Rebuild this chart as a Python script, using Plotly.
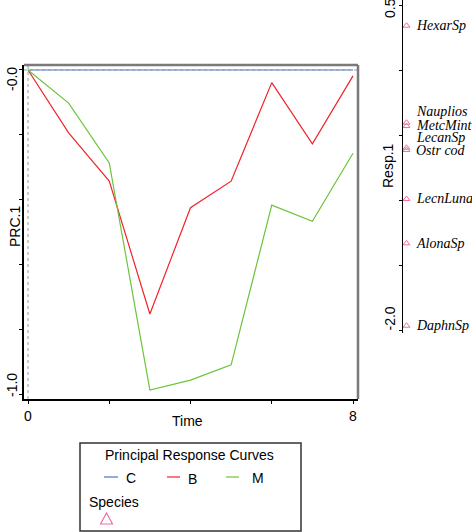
import plotly.graph_objects as go

# ---------------- data ----------------
time_points = [0, 1, 2, 3, 4, 5, 6, 7, 8]
prc_C = [0, 0, 0, 0, 0, 0, 0, 0, 0]
prc_B = [0, -0.194, -0.343, -0.753, -0.425, -0.343, -0.039, -0.228, -0.018]
prc_M = [0, -0.102, -0.287, -0.988, -0.957, -0.910, -0.417, -0.467, -0.257]

species_names = ["HexarSp", "Nauplios", "MetcMint", "LecanSp", "Ostr cod",
                 "LecnLuna", "AlonaSp", "DaphnSp"]
species_scores = [0.341, -0.405, -0.431, -0.598, -0.615, -0.992, -1.333, -1.967]
# label nudges (pixels, up) used to avoid overlapping species labels
species_label_nudge = [0, 11, 1, 10, -1, 0, 0, 0]

x_tickvals = [0, 2, 4, 6, 8]
x_ticktext = ["0", "", "", "", "8"]
y_tickvals = [0, -0.2, -0.4, -0.6, -0.8, -1.0]
sp_tickvals = [0.5, 0, -0.5, -1.0, -1.5, -2.0]

series_names = ["C", "B", "M"]
series_colors = ["#3C78D0", "#F2222B", "#6CC43A"]
species_color = "#F06EA0"

# ---------------- layout helpers ----------------
W, H = 472, 532
def px(x):
    return x / W
def py(y):
    return 1 - y / H

SANS = "Liberation Sans, Arial, sans-serif"
SERIF = "Liberation Serif, Times New Roman, serif"

fig = go.Figure()

for name, vals, col in zip(series_names, [prc_C, prc_B, prc_M], series_colors):
    fig.add_trace(go.Scatter(x=time_points, y=vals, mode="lines", name=name,
                             line=dict(color=col, width=1.2),
                             xaxis="x", yaxis="y", showlegend=False))

fig.add_trace(go.Scatter(x=[0] * len(species_scores), y=species_scores,
                         mode="markers", name="Species",
                         marker=dict(symbol="triangle-up-open", size=6,
                                     color=species_color, line=dict(width=1)),
                         xaxis="x2", yaxis="y2", showlegend=False))

tick_font = dict(family=SANS, size=14, color="black")

def ann(**kw):
    base = dict(showarrow=False, xanchor="center", yanchor="middle",
                font=tick_font)
    base.update(kw)
    return base

# species labels
annotations = []
for nm, sc, nudge in zip(species_names, species_scores, species_label_nudge):
    annotations.append(ann(x=0, y=sc, xref="x2", yref="y2", text=nm,
                           xanchor="left", xshift=7, yshift=nudge,
                           font=dict(family=SERIF, size=14, color="black",
                                     style="italic")))

# edge tick labels (drawn inside the axis range as in the reference)
annotations += [
    ann(x=px(12), y=0, xref="paper", yref="y", text="-0.0", textangle=-90,
        yshift=-9),
    ann(x=px(12), y=-1.0, xref="paper", yref="y", text="-1.0", textangle=-90,
        yshift=9),
    ann(x=px(390), y=0.5, xref="paper", yref="y2", text="0.5", textangle=-90,
        yshift=-3),
    ann(x=px(390), y=-2.0, xref="paper", yref="y2", text="-2.0", textangle=-90,
        yshift=11.5),
]

# axis titles
annotations += [
    ann(x=px(15), y=py(227), xref="paper", yref="paper", text="PRC.1",
        textangle=-90),
    ann(x=px(388), y=py(166), xref="paper", yref="paper", text="Resp.1",
        textangle=-90),
    ann(x=px(187), y=py(421), xref="paper", yref="paper", text="Time"),
]

# legend texts
annotations += [
    ann(x=px(189), y=py(455), xref="paper", yref="paper",
        text="Principal Response Curves"),
    ann(x=px(131), y=py(478), xref="paper", yref="paper", text="C"),
    ann(x=px(192), y=py(479), xref="paper", yref="paper", text="B"),
    ann(x=px(258), y=py(478), xref="paper", yref="paper", text="M"),
    ann(x=px(87), y=py(502), xref="paper", yref="paper", text="Species",
        xanchor="left"),
]

shapes = [
    # dotted reference lines
    dict(type="line", xref="x domain", yref="y", x0=0, x1=1, y0=0, y1=0,
         line=dict(color="#9A9A9A", width=1, dash="dot"), layer="above"),
    dict(type="line", xref="x", yref="y domain", x0=0, x1=0, y0=0, y1=1,
         line=dict(color="#9A9A9A", width=1, dash="dot"), layer="above"),
    # grey top and right frame
    dict(type="line", xref="x domain", yref="y domain", x0=0, x1=1, y0=1, y1=1,
         line=dict(color="#7A7A7A", width=2.5)),
    dict(type="line", xref="x domain", yref="y domain", x0=1, x1=1, y0=0, y1=1,
         line=dict(color="#7A7A7A", width=2.5)),
    # legend box
    dict(type="rect", xref="paper", yref="paper", x0=px(80), x1=px(301),
         y0=py(531), y1=py(443), line=dict(color="#333333", width=1.5)),
    # legend line samples
    dict(type="line", xref="paper", yref="paper", x0=px(104), x1=px(118),
         y0=py(477), y1=py(477), line=dict(color=series_colors[0], width=1.2)),
    dict(type="line", xref="paper", yref="paper", x0=px(167), x1=px(180),
         y0=py(477), y1=py(477), line=dict(color=series_colors[1], width=1.2)),
    dict(type="line", xref="paper", yref="paper", x0=px(226), x1=px(239),
         y0=py(477), y1=py(477), line=dict(color=series_colors[2], width=1.2)),
    # legend triangle
    dict(type="path", xref="paper", yref="paper",
         path=f"M {px(100.5)} {py(524)} L {px(112.5)} {py(524)} L {px(106.5)} {py(513)} Z",
         line=dict(color=species_color, width=1.2)),
]

axis_common = dict(showgrid=False, zeroline=False, showline=True,
                   linecolor="black", ticks="outside", tickcolor="black",
                   tickfont=tick_font)

fig.update_layout(
    width=W, height=H,
    margin=dict(l=0, r=0, t=0, b=0),
    paper_bgcolor="white", plot_bgcolor="white",
    showlegend=False,
    xaxis=dict(domain=[px(24), px(358)], range=[-0.0985, 8.123],
               tickvals=x_tickvals, ticktext=x_ticktext, ticklen=3,
               linewidth=1.5, anchor="y", **axis_common),
    yaxis=dict(domain=[py(399), py(65)], range=[-1.0154, 0.0154],
               tickvals=y_tickvals, ticktext=[""] * len(y_tickvals), ticklen=3,
               linewidth=1.5, anchor="x", **axis_common),
    xaxis2=dict(domain=[px(403), 1], range=[-3.5, 65.5], visible=False,
                anchor="y2", fixedrange=True),
    yaxis2=dict(domain=[py(333), 1], range=[-2.023, 0.5385], anchor="x2",
                side="left", tickvals=sp_tickvals,
                ticktext=[""] * len(sp_tickvals), ticklen=3, linewidth=1,
                **axis_common),
    annotations=annotations,
    shapes=shapes,
    font=dict(family=SANS, size=14, color="black"),
)

fig.write_html("out.html",
               config={"displayModeBar": False},
               post_script="document.body.style.margin='0';")
